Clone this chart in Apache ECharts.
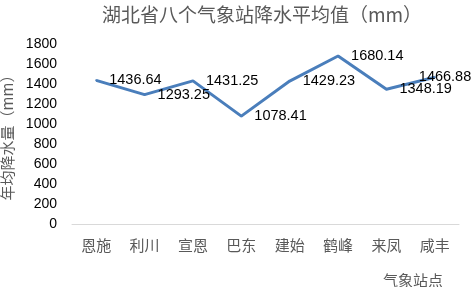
<!DOCTYPE html>
<html><head><meta charset="utf-8">
<script src="https://cdn.jsdelivr.net/npm/echarts@6/dist/echarts.min.js"></script>
<style>html,body{margin:0;padding:0;background:#fff}#c{width:472px;height:287px}</style>
</head><body><div id="c"></div>
<script>
const categories = ['恩施','利川','宣恩','巴东','建始','鹤峰','来凤','咸丰'];
const values = [1436.64, 1293.25, 1431.25, 1078.41, 1429.23, 1680.14, 1348.19, 1466.88];
const yTicks = [0,200,400,600,800,1000,1200,1400,1600,1800];
const chart = echarts.init(document.getElementById('c'), null, {renderer:'canvas'});
const cjk = '"Noto Sans CJK SC", sans-serif';
const lat = '"Liberation Sans", sans-serif';
const seriesData = values.map((v, i) => i === values.length - 1
  ? {value: v, label: {offset: [-29, 0]}}
  : v);
chart.setOption({
  animation:false,
  title:[
    {text:'湖北省八个气象站降水平均值（mm）', left:257, top:0, textAlign:'center',
      textStyle:{fontFamily:cjk, fontSize:19, fontWeight:'normal', color:'#595959'}},
    {text:'气象站点', left:408, top:268, textAlign:'center',
      textStyle:{fontFamily:cjk, fontSize:15, fontWeight:'normal', color:'#595959'}}
  ],
  grid:{left:72, right:13, top:44, bottom:63, containLabel:false, outerBoundsMode:'none'},
  xAxis:{type:'category', data:categories, boundaryGap:true,
    axisLine:{lineStyle:{color:'#d9d9d9', width:1}}, axisTick:{show:false},
    axisLabel:{fontFamily:cjk, fontSize:15, color:'#595959', margin:14}},
  yAxis:{type:'value', min:yTicks[0], max:yTicks[yTicks.length-1], interval:200,
    name:'年均降水量（mm）', nameLocation:'middle', nameRotate:90, nameGap:47,
    nameTextStyle:{fontFamily:cjk, fontSize:15, color:'#595959'},
    axisLine:{show:false}, axisTick:{show:false}, splitLine:{show:false},
    axisLabel:{fontFamily:lat, fontSize:14, color:'#000', margin:15, formatter:v=>String(v)}},
  series:[{type:'line', data:seriesData, showSymbol:true, symbol:'circle', symbolSize:2,
    itemStyle:{color:'#4a7ebb'},
    lineStyle:{color:'#4a7ebb', width:3},
    label:{show:true, position:'right', distance:12, fontFamily:lat, fontSize:14.5, color:'#000',
      formatter:p=>Number(p.value).toFixed(2)}}]
});
</script></body></html>
